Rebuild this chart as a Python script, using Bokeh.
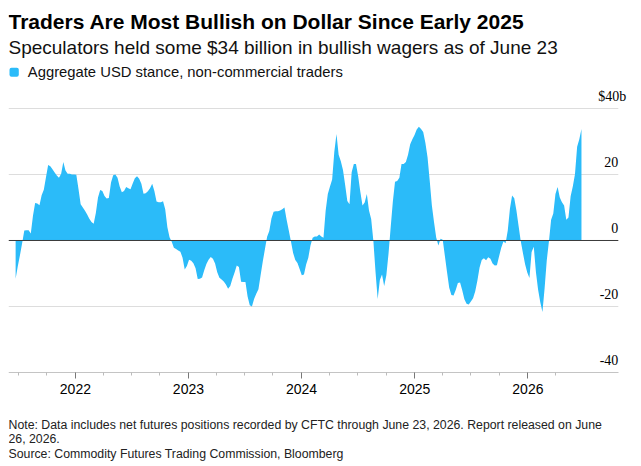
import pandas as pd
from bokeh.plotting import figure
from bokeh.models import (Range1d, FixedTicker, DatetimeTickFormatter, Label,
                          BoxAnnotation, ColumnDataSource)
from bokeh.embed import file_html
from bokeh.resources import INLINE

# ---------------- data ----------------
week_ending = pd.date_range("2021-06-22", "2026-06-23", freq="7D")  # weekly CFTC reports
usd_stance_bn = [
    -11.6, -7.8, -4.5, -0.8, 3.0, 3.1, 3.1, 2.1, 7.5, 11.4,
    11.2, 10.7, 13.7, 15.4, 19.2, 22.9, 22.5, 21.6, 20.6, 19.7,
    19.0, 20.2, 23.8, 21.2, 20.2, 20.2, 20.0, 20.0, 19.9, 15.6,
    11.0, 10.0, 9.0, 7.9, 6.6, 5.6, 5.1, 8.3, 13.0, 15.3,
    15.0, 13.5, 12.7, 12.9, 17.6, 19.8, 20.0, 19.0, 16.4, 14.6,
    15.0, 16.2, 15.8, 15.5, 17.3, 18.9, 19.5, 18.7, 17.2, 14.2,
    14.3, 14.9, 15.8, 17.2, 15.0, 11.8, 11.6, 11.6, 11.9, 9.5,
    4.0, 1.0, -0.4, -2.2, -2.6, -3.0, -3.4, -5.2, -8.8, -7.7,
    -5.8, -6.1, -6.9, -8.4, -11.7, -11.6, -11.2, -9.0, -7.1, -5.8,
    -5.0, -5.5, -7.0, -9.6, -11.3, -11.8, -12.4, -13.3, -14.6, -13.8,
    -11.6, -9.7, -7.6, -8.0, -12.5, -12.6, -12.6, -17.0, -19.6, -20.0,
    -17.7, -16.1, -14.8, -10.5, -6.4, -2.6, 1.1, 2.9, 6.7, 8.7,
    8.9, 8.9, 9.1, 9.5, 10.0, 6.3, 3.0, -0.3, -3.8, -5.9,
    -6.8, -8.6, -10.5, -10.3, -7.3, -5.2, -1.5, 0.8, 1.2, 1.2,
    1.8, 1.2, 0.8, 9.0, 14.1, 16.4, 18.5, 26.9, 32.3, 26.0,
    24.0, 21.4, 16.8, 12.0, 11.0, 20.7, 23.2, 23.2, 19.5, 14.8,
    10.6, 11.5, 14.1, 9.1, 6.5, 0.0, -9.5, -17.7, -12.0, -10.3,
    -13.8, -10.5, -4.0, 4.0, 11.8, 17.8, 18.0, 19.0, 23.2, 23.2,
    23.8, 26.0, 29.2, 30.7, 32.0, 33.6, 34.5, 33.8, 32.9, 29.6,
    25.2, 18.2, 10.6, 5.5, 0.9, -1.5, 0.5, 0.2, -4.7, -9.6,
    -14.3, -16.5, -16.7, -15.0, -12.9, -12.7, -15.1, -17.8, -19.2, -19.4,
    -18.5, -17.5, -15.4, -12.1, -8.2, -5.9, -5.4, -6.0, -5.1, -5.5,
    -7.0, -7.6, -7.5, -4.8, -2.2, -0.3, -0.8, 3.0, 9.6, 13.6,
    12.8, 9.1, 4.4, -0.2, -3.8, -7.2, -9.7, -11.4, -3.5, -1.9,
    -9.6, -14.9, -18.7, -21.7, -14.5, -6.0, -0.2, 6.3, 8.2, 14.1,
    16.2, 13.0, 11.6, 10.6, 6.3, 7.0, 13.4, 16.4, 20.1, 28.4,
    30.7, 33.8,
]
y_ticks = [-40, -20, 0, 20, 40]
y_tick_labels = ["-40", "-20", "0", "20", "$40b"]
year_ticks = ["2022-01-01", "2023-01-01", "2024-01-01", "2025-01-01", "2026-01-01"]
quarter_ticks = ["2021-07-01", "2021-10-01", "2022-04-01", "2022-07-01", "2022-10-01",
                 "2023-04-01", "2023-07-01", "2023-10-01", "2024-04-01", "2024-07-01",
                 "2024-10-01", "2025-04-01", "2025-07-01", "2025-10-01", "2026-04-01"]

title_text = "Traders Are Most Bullish on Dollar Since Early 2025"
subtitle_text = "Speculators held some $34 billion in bullish wagers as of June 23"
legend_text = "Aggregate USD stance, non-commercial traders"
footer_lines = ["Note: Data includes net futures positions recorded by CFTC through June 23, 2026. Report released on June",
                "26, 2026.",
                "Source: Commodity Futures Trading Commission, Bloomberg"]

# ---------------- styling / layout ----------------
BLUE = "#2bbbf9"
FONT = "Liberation Sans"
x_start = pd.Timestamp("2021-05-30")
x_end = pd.Timestamp("2026-12-08")
axis_end = pd.Timestamp("2026-10-20")


def ms(d):
    return pd.Timestamp(d).value / 1e6


p = figure(width=641, height=466, x_axis_type="datetime", y_axis_location=None,
           x_range=Range1d(x_start, x_end), y_range=Range1d(-68.485, 72.727),
           output_backend="svg", toolbar_location=None, title=None,
           min_border_left=8, min_border_right=8, min_border_top=0, min_border_bottom=0)
p.outline_line_color = None
p.xgrid.visible = False
p.ygrid.visible = False
p.background_fill_color = "white"
p.border_fill_color = "white"

# horizontal grid lines (non-zero)
grid_vals = [v for v in y_ticks if v not in (0, -40)]
p.segment(x0=[x_start] * len(grid_vals), x1=[axis_end] * len(grid_vals), y0=grid_vals, y1=grid_vals,
          line_color="#dddddd", line_width=1)

src = ColumnDataSource(dict(x=week_ending, y=usd_stance_bn, zero=[0] * len(usd_stance_bn)))
p.varea(x="x", y1="zero", y2="y", source=src, fill_color=BLUE, fill_alpha=1.0)

# zero line
p.segment(x0=[x_start], x1=[axis_end], y0=[0], y1=[0], line_color="#3a3a3a", line_width=1)

# y tick labels (right side, above the grid lines)
lab_src = ColumnDataSource(dict(x=[axis_end] * len(y_ticks), y=y_ticks, t=y_tick_labels,
                                xo=[8 if t.endswith("b") else 0 for t in y_tick_labels]))
p.text(x="x", y="y", text="t", source=lab_src, x_offset="xo", y_offset=-12,
       text_align="right", text_baseline="alphabetic", text_font_size="14px",
       text_font=FONT, text_color="#000000")

# x axis, drawn at y = -40
ax = p.xaxis[0]
ax.fixed_location = -40
ax.ticker = FixedTicker(ticks=[ms(d) for d in year_ticks], minor_ticks=[ms(d) for d in quarter_ticks])
ax.formatter = DatetimeTickFormatter(years="%Y", months="%Y", days="%Y")
ax.bounds = (ms(x_start), ms(axis_end))
ax.axis_line_color = "#c4c4c4"
ax.major_tick_line_color = "#777777"
ax.minor_tick_line_color = "#bbbbbb"
ax.major_tick_out = 6
ax.major_tick_in = 0
ax.minor_tick_out = 3
ax.minor_tick_in = 0
ax.major_label_standoff = 6
ax.major_label_text_font = FONT
ax.major_label_text_font_size = "14px"
ax.major_label_text_color = "#000000"


def text_label(txt, x, y, size, style="normal", color="#111111"):
    p.add_layout(Label(x=x, y=y, x_units="screen", y_units="screen", text=txt,
                       text_font=FONT, text_font_size=size, text_font_style=style,
                       text_color=color, text_baseline="alphabetic"))


# header
text_label(title_text, 0, 445.3, "21px", "bold", "#000000")
text_label(subtitle_text, 0, 418.7, "19px")
p.add_layout(BoxAnnotation(left=1, right=10.3, bottom=389.8, top=398.8, left_units="screen",
                           right_units="screen", bottom_units="screen", top_units="screen",
                           fill_color=BLUE, fill_alpha=1.0, line_color=None, border_radius=2))
text_label(legend_text, 19.3, 395, "14.8px")

# footer
for i, line in enumerate(footer_lines):
    text_label(line, 0, 41.7 - 14.5 * i, "12.3px", color="#222222")

open("out.html", "w").write(file_html(p, INLINE))
